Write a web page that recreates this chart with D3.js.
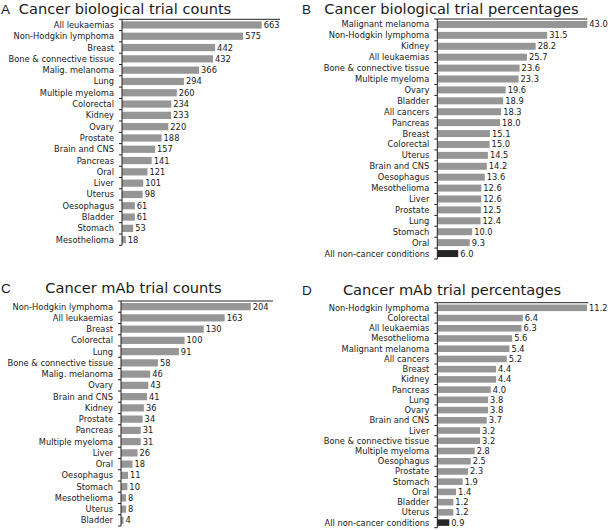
<!DOCTYPE html>
<html>
<head>
<meta charset="utf-8">
<script src="https://cdn.jsdelivr.net/npm/d3@7"></script>
<style>
  body { margin: 0; background: #fff; }
  svg { display: block; }
  text { font-family: "DejaVu Sans", Verdana, sans-serif; fill: #1a1a1a; }
</style>
</head>
<body>
<svg id="chart" width="608" height="530"></svg>
<script>
// A: biological trial counts
const bioCountCats = ['All leukaemias', 'Non-Hodgkin lymphoma', 'Breast', 'Bone & connective tissue',
  'Malig. melanoma', 'Lung', 'Multiple myeloma', 'Colorectal', 'Kidney', 'Ovary', 'Prostate',
  'Brain and CNS', 'Pancreas', 'Oral', 'Liver', 'Uterus', 'Oesophagus', 'Bladder', 'Stomach', 'Mesothelioma'];
const bioCountVals = [663, 575, 442, 432, 366, 294, 260, 234, 233, 220, 188, 157, 141, 121, 101, 98, 61, 61, 53, 18];

// B: biological trial percentages
const bioPctCats = ['Malignant melanoma', 'Non-Hodgkin lymphoma', 'Kidney', 'All leukaemias',
  'Bone & connective tissue', 'Multiple myeloma', 'Ovary', 'Bladder', 'All cancers', 'Pancreas',
  'Breast', 'Colorectal', 'Uterus', 'Brain and CNS', 'Oesophagus', 'Mesothelioma', 'Liver',
  'Prostate', 'Lung', 'Stomach', 'Oral', 'All non-cancer conditions'];
const bioPctVals = [43.0, 31.5, 28.2, 25.7, 23.6, 23.3, 19.6, 18.9, 18.3, 18.0, 15.1, 15.0, 14.5,
  14.2, 13.6, 12.6, 12.6, 12.5, 12.4, 10.0, 9.3, 6.0];

// C: mAb trial counts
const mabCountCats = ['Non-Hodgkin lymphoma', 'All leukaemias', 'Breast', 'Colorectal', 'Lung',
  'Bone & connective tissue', 'Malig. melanoma', 'Ovary', 'Brain and CNS', 'Kidney', 'Prostate',
  'Pancreas', 'Multiple myeloma', 'Liver', 'Oral', 'Oesophagus', 'Stomach', 'Mesothelioma', 'Uterus', 'Bladder'];
const mabCountVals = [204, 163, 130, 100, 91, 58, 46, 43, 41, 36, 34, 31, 31, 26, 18, 11, 10, 8, 8, 4];

// D: mAb trial percentages
const mabPctCats = ['Non-Hodgkin lymphoma', 'Colorectal', 'All leukaemias', 'Mesothelioma',
  'Malignant melanoma', 'All cancers', 'Breast', 'Kidney', 'Pancreas', 'Lung', 'Ovary',
  'Brain and CNS', 'Liver', 'Bone & connective tissue', 'Multiple myeloma', 'Oesophagus',
  'Prostate', 'Stomach', 'Oral', 'Bladder', 'Uterus', 'All non-cancer conditions'];
const mabPctVals = [11.2, 6.4, 6.3, 5.6, 5.4, 5.2, 4.4, 4.4, 4.0, 3.8, 3.8, 3.7, 3.2, 3.2, 2.8,
  2.5, 2.3, 1.9, 1.4, 1.2, 1.2, 0.9];

const panels = [
  { letter: 'A', title: 'Cancer biological trial counts', cats: bioCountCats, vals: bioCountVals,
    fmt: d3.format('d'), x0: 122, w: 158, xmax: 750, top: 19.3, h: 226,
    lx: 1, ly: 14, tx: 125, ty: 14 },
  { letter: 'B', title: 'Cancer biological trial percentages', cats: bioPctCats, vals: bioPctVals,
    fmt: d3.format('.1f'), x0: 437.3, w: 150, xmax: 43.0, top: 19, h: 240,
    lx: 302, ly: 14, tx: 451.5, ty: 13.5 },
  { letter: 'C', title: 'Cancer mAb trial counts', cats: mabCountCats, vals: mabCountVals,
    fmt: d3.format('d'), x0: 121, w: 152, xmax: 239, top: 301, h: 225,
    lx: 1, ly: 293, tx: 133.5, ty: 293.3 },
  { letter: 'D', title: 'Cancer mAb trial percentages', cats: mabPctCats, vals: mabPctVals,
    fmt: d3.format('.1f'), x0: 437.3, w: 151, xmax: 11.3, top: 302.7, h: 225,
    lx: 302, ly: 295, tx: 452, ty: 295 }
];

const svg = d3.select('#chart');

panels.forEach(p => {
  const data = p.cats.map((c, i) => ({ cat: c, val: p.vals[i] }));

  const x = d3.scaleLinear().domain([0, p.xmax]).range([0, p.w]);
  const y = d3.scaleBand()
    .domain(p.cats)
    .range([0, p.h])
    .paddingInner(0.36)
    .paddingOuter(0.18);

  const g = svg.append('g').attr('transform', `translate(${p.x0}, ${p.top})`);

  // panel letter + title
  svg.append('text')
    .attr('x', p.lx).attr('y', p.ly)
    .style('font-family', '"Liberation Sans", Arial, sans-serif')
    .style('font-size', '13.5px')
    .text(p.letter);
  svg.append('text')
    .attr('x', p.tx).attr('y', p.ty)
    .attr('text-anchor', 'middle')
    .style('font-size', '14.6px')
    .text(p.title);

  // bars
  g.selectAll('.bar')
    .data(data)
    .enter()
    .append('rect')
    .attr('class', 'bar')
    .attr('x', 0)
    .attr('y', d => y(d.cat))
    .attr('width', d => x(d.val))
    .attr('height', y.bandwidth())
    .attr('fill', d => d.cat === 'All non-cancer conditions' ? '#262626' : '#969696');

  // value labels
  g.selectAll('.val')
    .data(data)
    .enter()
    .append('text')
    .attr('class', 'val')
    .attr('x', d => x(d.val) + 2)
    .attr('y', d => y(d.cat) + y.bandwidth() / 2)
    .attr('dy', '0.36em')
    .style('font-size', '8.3px')
    .text(d => p.fmt(d.val));

  // category axis, ticks sit between the bars
  const step = y.step();
  const edges = d3.range(p.cats.length + 1).map(i => i * step);
  const yAxis = g.append('g').attr('class', 'axis axis--y');
  yAxis.append('line')
    .attr('x1', 0).attr('x2', 0)
    .attr('y1', 0).attr('y2', p.h)
    .attr('stroke', '#222');
  yAxis.selectAll('.tick')
    .data(edges)
    .enter()
    .append('line')
    .attr('class', 'tick')
    .attr('x1', -3).attr('x2', 0)
    .attr('y1', d => d).attr('y2', d => d)
    .attr('stroke', '#222');
  yAxis.selectAll('.lbl')
    .data(p.cats)
    .enter()
    .append('text')
    .attr('class', 'lbl')
    .attr('x', -8)
    .attr('y', d => y(d) + y.bandwidth() / 2)
    .attr('dy', '0.36em')
    .attr('text-anchor', 'end')
    .style('font-size', '8.3px')
    .text(d => d);

  // top rule
  g.append('line')
    .attr('x1', 0).attr('x2', x(p.xmax))
    .attr('y1', 0).attr('y2', 0)
    .attr('stroke', '#222');
});
</script>
</body>
</html>
